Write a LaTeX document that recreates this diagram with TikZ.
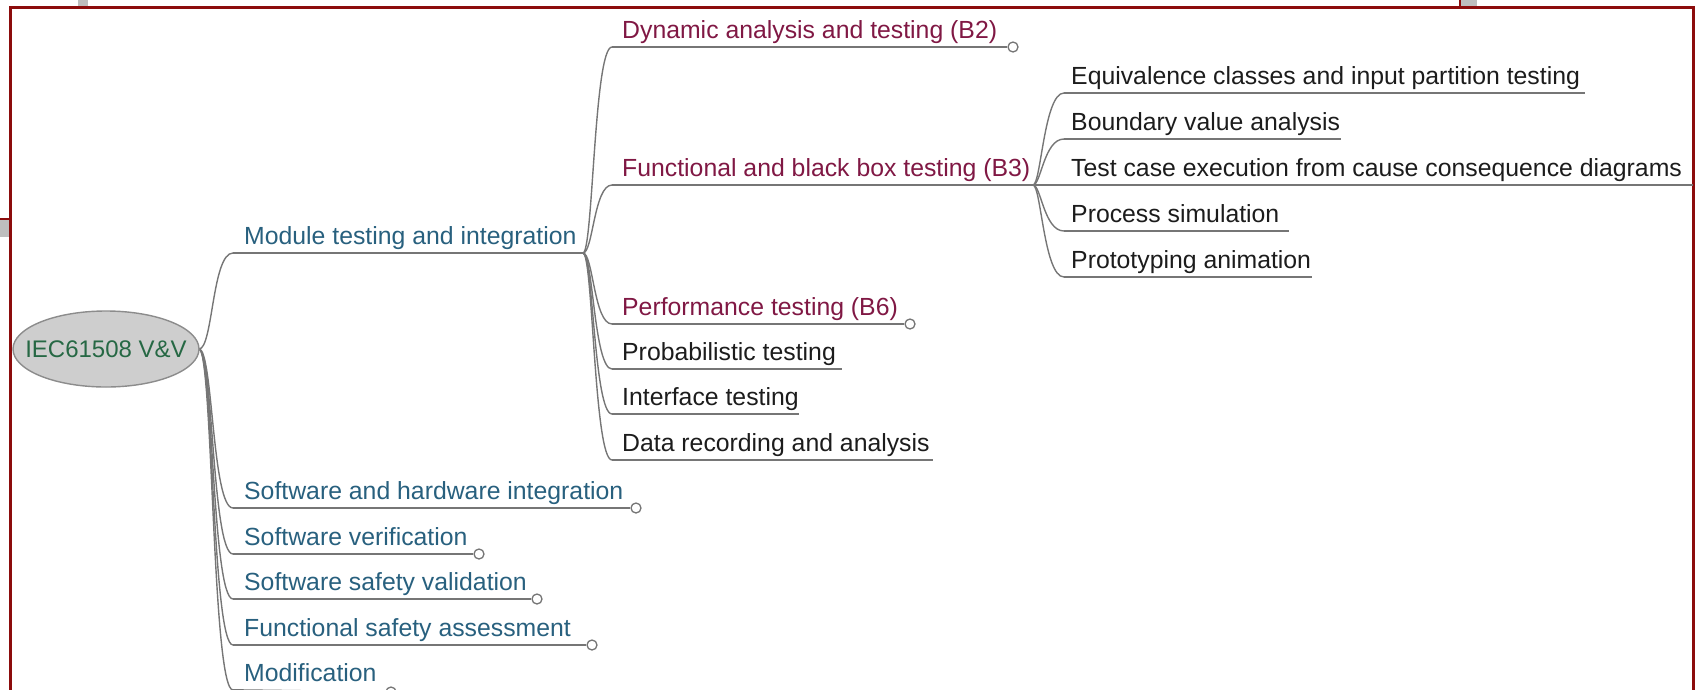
\documentclass[tikz,border=0pt]{standalone}
\usepackage{fontspec}
\setmainfont{Liberation Sans}
\usetikzlibrary{shapes.geometric}
\definecolor{frameR}{RGB}{140,12,12}
\definecolor{lineG}{RGB}{118,118,118}
\definecolor{blueT}{RGB}{40,96,126}
\definecolor{maroonT}{RGB}{128,24,68}
\definecolor{blackT}{RGB}{28,28,28}
\definecolor{greenT}{RGB}{38,104,68}
\definecolor{ellF}{RGB}{206,206,206}
\definecolor{ellD}{RGB}{140,140,140}
\definecolor{bgG}{RGB}{190,190,190}
\begin{document}
\begin{tikzpicture}[x=1pt,y=-1pt,
  txt/.style={anchor=base west, inner sep=0pt, font=\fontsize{24.8}{28}\selectfont},
  lvlA/.style={txt, text=blueT},
  lvlB/.style={txt, text=maroonT},
  lvlC/.style={txt, text=blackT},
  ul/.style={draw=lineG, line width=1.8pt},
  br/.style={draw=lineG, line width=1.4pt},
  fold/.style={circle, draw=lineG, fill=white, line width=1.3pt, minimum size=10pt, inner sep=0pt},
  rootnode/.style={ellipse, draw=ellD, fill=ellF, line width=1.4pt, minimum width=186pt, minimum height=76pt, inner xsep=-15pt, inner ysep=0pt, text=greenT, font=\fontsize{24}{28}\selectfont},
]
\useasboundingbox (0,0) rectangle (1695,689);
% background bits of the screenshot
\fill[bgG] (78,0) rectangle (88,6);
\fill[bgG] (0,220) rectangle (9,237);
\draw[frameR, line width=2pt] (0,219) -- (9,219);
\fill[bgG] (1461,0) rectangle (1477,7);
\draw[frameR, line width=2pt] (1460,0) -- (1460,7);
% frame
\draw[frameR, line width=3pt] (10.5,710) -- (10.5,7.5) -- (1693.5,7.5) -- (1693.5,710);

% coordinates: underline ends
\coordinate (rootR) at (199,349);
\coordinate (modL) at (233,253);   \coordinate (modR) at (583,253);
\coordinate (swhwL) at (233,508);
\coordinate (swvL) at (233,554);
\coordinate (ssvL) at (233,599);
\coordinate (fsaL) at (233,645);
\coordinate (modifL) at (233,690);
\coordinate (dynL) at (612,47);
\coordinate (funL) at (612,185);   \coordinate (funR) at (1033,185);
\coordinate (perfL) at (612,324);
\coordinate (probL) at (612,369);  \coordinate (probR) at (842,369);
\coordinate (intfL) at (612,414);  \coordinate (intfR) at (799,414);
\coordinate (dataL) at (612,460);  \coordinate (dataR) at (933,460);
\coordinate (eqL) at (1064,93);    \coordinate (eqR) at (1585,93);
\coordinate (bvaL) at (1064,139);  \coordinate (bvaR) at (1341,139);
\coordinate (tcL) at (1064,185);   \coordinate (tcR) at (1693,185);
\coordinate (psL) at (1064,231);   \coordinate (psR) at (1289,231);
\coordinate (paL) at (1064,277);   \coordinate (paR) at (1312,277);

% fold circles
\node[fold] (swhwC) at (636,508) {};
\node[fold] (swvC) at (479,554) {};
\node[fold] (ssvC) at (537,599) {};
\node[fold] (fsaC) at (592,645) {};
\node[fold] (modifC) at (391,692) {};
\node[fold] (dynC) at (1013,47) {};
\node[fold] (perfC) at (910,324) {};

% branches root -> level 1
\foreach \c in {modL,swhwL,swvL,ssvL,fsaL,modifL}
  \draw[br] (rootR) .. controls +(14,0) and +(-21,0) .. (\c);
% branches module -> level 2
\foreach \c in {dynL,funL,perfL,probL,intfL,dataL}
  \draw[br] (modR) .. controls +(10,0) and +(-18,0) .. (\c);
% branches functional -> level 3
\foreach \c in {eqL,bvaL,psL,paL}
  \draw[br] (funR) .. controls +(8,0) and +(-20,0) .. (\c);
\draw[br] (funR) -- (tcL);

% underlines
\draw[ul] (modL) -- (modR);
\draw[ul] (swhwL) -- (swhwC.west);
\draw[ul] (swvL) -- (swvC.west);
\draw[ul] (ssvL) -- (ssvC.west);
\draw[ul] (fsaL) -- (fsaC.west);
\draw[ul] (modifL) -- (modifC.west);
\draw[ul] (dynL) -- (dynC.west);
\draw[ul] (funL) -- (funR);
\draw[ul] (perfL) -- (perfC.west);
\draw[ul] (probL) -- (probR);
\draw[ul] (intfL) -- (intfR);
\draw[ul] (dataL) -- (dataR);
\draw[ul] (eqL) -- (eqR);
\draw[ul] (bvaL) -- (bvaR);
\draw[ul] (tcL) -- (tcR);
\draw[ul] (psL) -- (psR);
\draw[ul] (paL) -- (paR);

% root
\node[rootnode] (root) at (106,349) {IEC61508 V\&V};

% texts level 1
\node[lvlA] (mod) at (244,244) {Module testing and integration};
\node[lvlA] (swhw) at (244,499) {Software and hardware integration};
\node[lvlA] (swv) at (244,545) {Software verification};
\node[lvlA] (ssv) at (244,590) {Software safety validation};
\node[lvlA] (fsa) at (244,636) {Functional safety assessment};
\node[lvlA] (modif) at (244,681) {Modification};
% texts level 2
\node[lvlB] (dyn) at (622,38) {Dynamic analysis and testing (B2)};
\node[lvlB] (fun) at (622,176) {Functional and black box testing (B3)};
\node[lvlB] (perf) at (622,315) {Performance testing (B6)};
\node[lvlC] (prob) at (622,360) {Probabilistic testing};
\node[lvlC] (intf) at (622,405) {Interface testing};
\node[lvlC] (data) at (622,451) {Data recording and analysis};
% texts level 3
\node[lvlC] (eq) at (1071,84) {Equivalence classes and input partition testing};
\node[lvlC] (bva) at (1071,130) {Boundary value analysis};
\node[lvlC] (tc) at (1071,176) {Test case execution from cause consequence diagrams};
\node[lvlC] (ps) at (1071,222) {Process simulation};
\node[lvlC] (pa) at (1071,268) {Prototyping animation};
\end{tikzpicture}
\end{document}
